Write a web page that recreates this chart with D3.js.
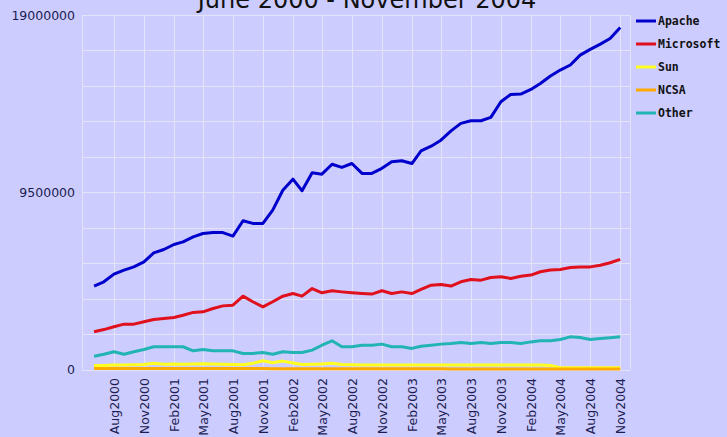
<!DOCTYPE html>
<html>
<head>
<meta charset="utf-8">
<script src="https://cdn.jsdelivr.net/npm/d3@7"></script>
<style>
  html, body { margin: 0; padding: 0; background: #ccccff; overflow: hidden; }
  svg { display: block; }
</style>
</head>
<body>
<script>
// monthly figures, June 2000 .. November 2004 (millions of sites)
const apache = [4.47, 4.70, 5.11, 5.33, 5.50, 5.77, 6.25, 6.43, 6.70, 6.84, 7.11, 7.29, 7.34, 7.34, 7.15, 7.97, 7.83, 7.83,
  8.54, 9.61, 10.2, 9.58, 10.54, 10.47, 11.0, 10.83, 11.04, 10.51, 10.51, 10.78, 11.13, 11.19, 11.04, 11.72, 11.97, 12.29,
  12.79, 13.19, 13.33, 13.33, 13.51, 14.35, 14.74, 14.76, 15.01, 15.33, 15.73, 16.05, 16.32, 16.85, 17.16, 17.44, 17.74, 18.33];
const microsoft = [2.02, 2.14, 2.29, 2.43, 2.43, 2.56, 2.68, 2.73, 2.79, 2.91, 3.06, 3.09, 3.27, 3.41, 3.45, 3.93, 3.63, 3.36,
  3.63, 3.93, 4.07, 3.93, 4.34, 4.11, 4.22, 4.16, 4.11, 4.07, 4.04, 4.22, 4.07, 4.16, 4.07, 4.29, 4.52, 4.56,
  4.47, 4.70, 4.82, 4.79, 4.93, 4.97, 4.88, 5.00, 5.06, 5.24, 5.33, 5.36, 5.47, 5.50, 5.50, 5.59, 5.72, 5.90];
const sun = [0.22, 0.22, 0.24, 0.24, 0.25, 0.27, 0.33, 0.28, 0.30, 0.28, 0.30, 0.31, 0.30, 0.28, 0.27, 0.25, 0.33, 0.47,
  0.36, 0.45, 0.35, 0.27, 0.28, 0.30, 0.33, 0.27, 0.25, 0.24, 0.24, 0.24, 0.24, 0.24, 0.24, 0.24, 0.24, 0.24,
  0.24, 0.24, 0.24, 0.24, 0.24, 0.24, 0.24, 0.24, 0.24, 0.24, 0.22, 0.10, 0.10, 0.10, 0.10, 0.10, 0.10, 0.10];
const ncsa = [0.05, 0.05, 0.05, 0.05, 0.05, 0.05, 0.05, 0.05, 0.05, 0.05, 0.05, 0.05, 0.05, 0.05, 0.05, 0.05, 0.05, 0.05,
  0.04, 0.04, 0.04, 0.04, 0.04, 0.04, 0.04, 0.04, 0.04, 0.04, 0.04, 0.04, 0.04, 0.04, 0.04, 0.04, 0.04, 0.04,
  0.03, 0.03, 0.03, 0.03, 0.03, 0.03, 0.03, 0.03, 0.03, 0.03, 0.03, 0.03, 0.03, 0.03, 0.03, 0.03, 0.03, 0.03];
const other = [0.71, 0.82, 0.95, 0.82, 0.95, 1.07, 1.22, 1.22, 1.22, 1.22, 1.00, 1.07, 1.00, 1.00, 1.00, 0.86, 0.86, 0.91,
  0.82, 0.95, 0.91, 0.91, 1.04, 1.30, 1.54, 1.22, 1.22, 1.30, 1.30, 1.36, 1.22, 1.22, 1.13, 1.25, 1.30, 1.36,
  1.39, 1.45, 1.39, 1.45, 1.39, 1.45, 1.45, 1.39, 1.48, 1.54, 1.54, 1.61, 1.75, 1.72, 1.61, 1.66, 1.70, 1.75];

const seriesNames = ['Apache', 'Microsoft', 'Sun', 'NCSA', 'Other'];
const seriesColors = ['#0000cc', '#e0101c', '#ffff22', '#ffaa00', '#22b4b4'];
const tickLabels = ['Aug2000', 'Nov2000', 'Feb2001', 'May2001', 'Aug2001', 'Nov2001', 'Feb2002', 'May2002', 'Aug2002',
  'Nov2002', 'Feb2003', 'May2003', 'Aug2003', 'Nov2003', 'Feb2004', 'May2004', 'Aug2004', 'Nov2004'];
const yTickLabels = [0, 9500000, 19000000];
const title = 'June 2000 - November 2004';

const width = 727, height = 437;
const months = d3.timeMonth.range(new Date(2000, 5, 1), new Date(2004, 11, 1));
const parseTick = d3.timeParse('%b%Y');

const svg = d3.select('body').append('svg')
  .attr('width', width)
  .attr('height', height);

svg.append('rect').attr('width', width).attr('height', height).attr('fill', '#ccccff');

const x = d3.scaleTime()
  .domain([new Date(2000, 3, 25), new Date(2004, 11, 1)])
  .range([82, 630]);
const y = d3.scaleLinear().domain([0, 19000000]).range([369.5, 15]);

// grid
const grid = svg.append('g').attr('stroke', '#e4e4f6').attr('stroke-width', 1);
grid.selectAll('line.h')
  .data(d3.range(0, 19000001, 1900000))
  .join('line')
  .attr('x1', 82).attr('x2', 630)
  .attr('y1', d => Math.round(y(d)) + 0.5).attr('y2', d => Math.round(y(d)) + 0.5);
grid.selectAll('line.v')
  .data([x.domain()[0], ...tickLabels.map(parseTick), x.domain()[1]])
  .join('line')
  .attr('x1', d => Math.round(x(d)) + 0.5).attr('x2', d => Math.round(x(d)) + 0.5)
  .attr('y1', y(19000000)).attr('y2', y(0));

// y labels
svg.append('g')
  .attr('font-family', 'DejaVu Sans, Verdana, sans-serif')
  .attr('font-size', 12.5)
  .attr('fill', '#1c1c50')
  .attr('text-anchor', 'end')
  .selectAll('text')
  .data(yTickLabels)
  .join('text')
  .attr('x', 75)
  .attr('y', d => y(d) + 4.5)
  .text(d => d);

// x labels, rotated
const xAxis = d3.axisBottom(x)
  .tickValues(tickLabels.map(parseTick))
  .tickFormat(d3.timeFormat('%b%Y'))
  .tickSize(0);
const gx = svg.append('g')
  .attr('transform', 'translate(0,' + 378 + ')')
  .call(xAxis);
gx.select('.domain').remove();
gx.selectAll('text')
  .attr('font-family', 'DejaVu Sans, Verdana, sans-serif')
  .attr('font-size', 12.5)
  .attr('fill', '#1c1c50')
  .attr('text-anchor', 'end')
  .attr('dy', '0.35em')
  .attr('x', 0)
  .attr('y', 0)
  .attr('transform', 'rotate(-90)');

// lines
const allSeries = [apache, microsoft, sun, ncsa, other];
const line = d3.line()
  .x((d, i) => x(months[i]))
  .y(d => y(d * 1e6));
svg.append('g')
  .selectAll('path')
  .data(allSeries)
  .join('path')
  .attr('fill', 'none')
  .attr('stroke', (d, i) => seriesColors[i])
  .attr('stroke-width', 3)
  .attr('stroke-linejoin', 'round')
  .attr('d', line);

// legend
const legend = svg.append('g')
  .selectAll('g')
  .data(seriesNames)
  .join('g')
  .attr('transform', (d, i) => 'translate(636,' + (21 + i * 23) + ')');
legend.append('line')
  .attr('x1', 0).attr('x2', 20)
  .attr('stroke', (d, i) => seriesColors[i])
  .attr('stroke-width', 3);
legend.append('text')
  .attr('x', 22)
  .attr('y', 4)
  .attr('font-family', 'DejaVu Sans Mono, monospace')
  .attr('font-weight', 'bold')
  .attr('font-size', 11.5)
  .attr('fill', '#111')
  .text(d => d);

// title, partly off the top edge as in the original
svg.append('text')
  .attr('x', 367)
  .attr('y', 8)
  .attr('text-anchor', 'middle')
  .attr('font-family', 'DejaVu Sans, Verdana, sans-serif')
  .attr('font-size', 24)
  .attr('fill', '#111')
  .text(title);
</script>
</body>
</html>
